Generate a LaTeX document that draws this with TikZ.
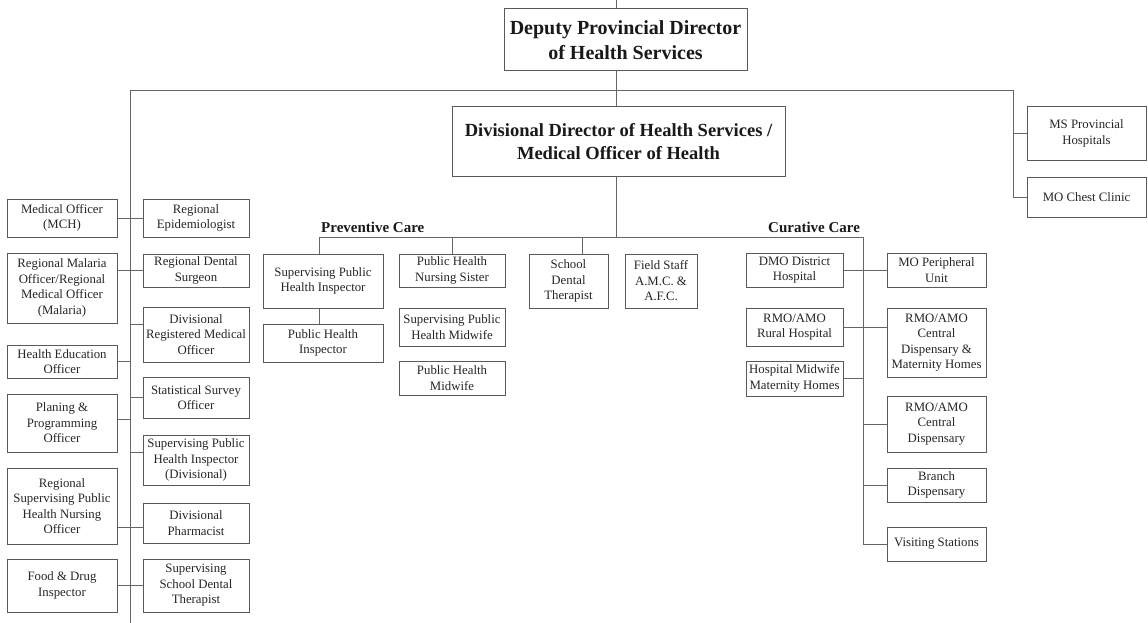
\documentclass[tikz,border=0pt]{standalone}
\usepackage{fontspec}
\setmainfont{Liberation Serif}
\usepackage{tikz}
\usetikzlibrary{positioning,calc}

\begin{document}
\begin{tikzpicture}[x=1pt, y=-1pt,
    conn/.style={draw=black!60, line width=1pt},
    box/.style={draw=black!65, line width=1pt, fill=white, align=center, inner sep=1pt, text=black!85, font=\fontsize{12.8}{15.5}\selectfont},
    head/.style={box, inner sep=2pt, text=black!90},
    care/.style={anchor=base west, inner sep=0pt, text=black!90, font=\fontsize{15}{18}\selectfont\bfseries}]
    \useasboundingbox (0,0) rectangle (1148,623);

    % Directors
    \node[head, minimum width=243, minimum height=62, font=\fontsize{20}{25}\selectfont\bfseries] (dpd) at (625.5,40) {Deputy Provincial Director\\of Health Services};
    \node[head, minimum width=333, minimum height=69, font=\fontsize{18.5}{23}\selectfont\bfseries] (ddhs) at (618.5,141.5) {Divisional Director of Health Services /\\Medical Officer of Health};

    % Boxes: name/left/top/right/bottom/text
    \foreach \n/\xa/\ya/\xb/\yb/\txt in {
        msph/1027/107/1146/160/{MS Provincial\\Hospitals},
        mocc/1027/177/1146/217/{MO Chest Clinic},
        mch/7/199/117/237/{Medical Officer\\(MCH)},
        malaria/7/253/117/323/{Regional Malaria\\Officer/Regional\\Medical Officer\\(Malaria)},
        heo/7/345/117/378/{Health Education\\Officer},
        ppo/7/394/117/452/{Planing \&\\Programming\\Officer},
        rsphno/7/468/117/544/{Regional\\Supervising Public\\Health Nursing\\Officer},
        fdi/7/559/117/612/{Food \& Drug\\Inspector},
        repi/143/199/249/237/{Regional\\Epidemiologist},
        rds/143/254/249/287/{Regional Dental\\Surgeon},
        drmo/143/307/249/362/{Divisional\\Registered Medical\\Officer},
        sso/143/377/249/418/{Statistical Survey\\Officer},
        sphid/143/435/249/485/{Supervising Public\\Health Inspector\\(Divisional)},
        dph/143/503/249/543/{Divisional\\Pharmacist},
        ssdt/143/559/249/612/{Supervising\\School Dental\\Therapist},
        sphi/263/254/383/308/{Supervising Public\\Health Inspector},
        phi/263/324/383/362/{Public Health\\Inspector},
        phns/399/254/505/287/{Public Health\\Nursing Sister},
        sphm/399/308/505/346/{Supervising Public\\Health Midwife},
        phm/399/361/505/395/{Public Health\\Midwife},
        sdt/529/254/608/308/{School\\Dental\\Therapist},
        fs/625/254/697/308/{Field Staff\\A.M.C. \&\\A.F.C.},
        dmo/746/253/843/287/{DMO District\\Hospital},
        rmorh/746/308/843/346/{RMO/AMO\\Rural Hospital},
        hmw/746/361/843/396/{Hospital Midwife\\Maternity Homes},
        mopu/887/253/986/287/{MO Peripheral\\Unit},
        rmocdm/887/308/986/377/{RMO/AMO\\Central\\Dispensary \&\\Maternity Homes},
        rmocd/887/396/986/452/{RMO/AMO\\Central\\Dispensary},
        bd/887/468/986/502/{Branch\\Dispensary},
        vs/887/527/986/561/{Visiting Stations}}
        \node[box, minimum width={\xb-\xa}, minimum height={\yb-\ya}] (\n) at ({(\xa+\xb)/2},{(\ya+\yb)/2}) {\txt};

    % Care labels
    \node[care] (prev) at (321,232) {Preventive Care};
    \node[care] (cur) at (768,232) {Curative Care};

    % Main lines
    \coordinate (feed) at (616,0);
    \coordinate (lbus) at (130,91);
    \coordinate (rbus) at (1013,91);
    \coordinate (lend) at (130,623);
    \coordinate (cbus) at (616,237);
    \coordinate (cend) at (863,237);
    \draw[conn] (feed) -- (feed |- dpd.north);
    \draw[conn] (feed |- dpd.south) -- (feed |- ddhs.north);
    \draw[conn] (lend) -- (lbus) -- (rbus) |- (mocc.west);
    \draw[conn] (msph.west) -- (msph.west -| rbus);
    \draw[conn] (feed |- ddhs.south) -- (cbus);

    % Left column
    \draw[conn] (mch) -- (repi);
    \draw[conn] (rds.west) -- (rds.west -| malaria.east);
    \draw[conn] ([yshift=10pt]drmo.west) -- ([yshift=10pt]drmo.west -| lbus);
    \draw[conn] (heo.east) -- (heo.east -| lbus);
    \draw[conn] (sso.west) -- (sso.west -| lbus);
    \draw[conn] ([yshift=4pt]ppo.east) -- ([yshift=4pt]ppo.east -| lbus);
    \draw[conn] ([yshift=8pt]sphid.west) -- ([yshift=8pt]sphid.west -| lbus);
    \draw[conn] ([yshift=-4pt]dph.west) -- ([yshift=-4pt]dph.west -| rsphno.east);
    \draw[conn] (fdi) -- (ssdt);

    % Preventive care
    \draw[conn] ([xshift=-4pt]sphi.north) |- (cend) |- (vs.west);
    \draw[conn] (phns.north) -- (phns.north |- cbus);
    \draw[conn] ([xshift=14pt]sdt.north) -- ([xshift=14pt]sdt.north |- cbus);
    \draw[conn] ([xshift=-4pt]sphi.south) -- ([xshift=-4pt]phi.north);

    % Curative care
    \draw[conn] (dmo) -- (mopu);
    \draw[conn] (rmorh.east) -- (rmorh.east -| rmocdm.west);
    \draw[conn] (hmw.east) -- (hmw.east -| cend);
    \foreach \n in {rmocd, bd}
        \draw[conn] (\n.west) -- (\n.west -| cend);
\end{tikzpicture}
\end{document}
